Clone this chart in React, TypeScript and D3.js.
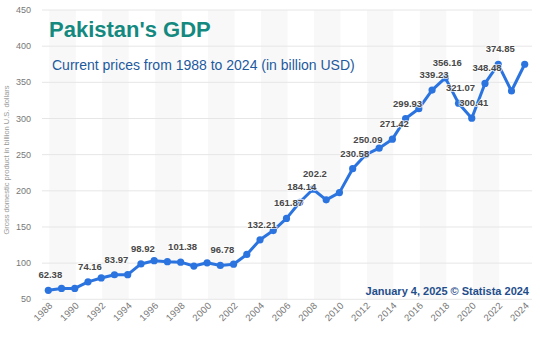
import React from "react";
import * as d3 from "d3";

const years: number[] = [
  1988, 1989, 1990, 1991, 1992, 1993, 1994, 1995, 1996, 1997, 1998, 1999,
  2000, 2001, 2002, 2003, 2004, 2005, 2006, 2007, 2008, 2009, 2010, 2011,
  2012, 2013, 2014, 2015, 2016, 2017, 2018, 2019, 2020, 2021, 2022, 2023, 2024,
];
const gdp: number[] = [
  62.38, 65, 65, 74.16, 79.5, 83.97, 84, 98.92, 103.4, 102, 101.38, 96,
  100.5, 96.78, 98.5, 112, 132.21, 145, 161.87, 184.14, 202.2, 187.5, 197.5, 230.58,
  250.09, 259, 271.42, 299.93, 313.5, 339.23, 356.16, 321.07, 300.41, 348.48, 374.85, 338, 375,
];
const labeledYears: number[] = [
  1988, 1991, 1993, 1995, 1998, 2001, 2004, 2006, 2007, 2008, 2011, 2012,
  2014, 2015, 2017, 2018, 2019, 2020, 2021, 2022,
];
const yTicks: number[] = [50, 100, 150, 200, 250, 300, 350, 400, 450];
const xTicks: number[] = [
  1988, 1990, 1992, 1994, 1996, 1998, 2000, 2002, 2004, 2006, 2008, 2010,
  2012, 2014, 2016, 2018, 2020, 2022, 2024,
];
const bandStarts: number[] = [1988, 1992, 1996, 2000, 2004, 2008, 2012, 2016, 2020];

const title = "Pakistan's GDP";
const subtitle = "Current prices from 1988 to 2024 (in billion USD)";
const yAxisTitle = "Gross domestic product in billion U.S. dollars";
const footer = "January 4, 2025 © Statista 2024";

export default function App() {
  const W = 540;
  const H = 338;
  const x = d3.scaleLinear().domain([1988, 2024]).range([48.3, 524.7]);
  const y = d3.scaleLinear().domain([50, 450]).range([299.3, 10]);
  const data = years.map((yr, i) => ({ yr, v: gdp[i] }));
  const line = d3
    .line<{ yr: number; v: number }>()
    .x((d) => x(d.yr))
    .y((d) => y(d.v));
  const font = "'Liberation Sans', Arial, sans-serif";
  const lineColor = "#2b74e0";

  return (
    <svg
      width={W}
      height={H}
      style={{ position: "absolute", left: 0, top: 0, background: "#fff" }}
      fontFamily={font}
    >
      <rect x={0} y={0} width={W} height={H} fill="#fff" />
      {bandStarts.map((b) => (
        <rect
          key={b}
          x={x(b) + 1}
          y={y(450)}
          width={x(b + 2) - x(b)}
          height={y(50) - y(450)}
          fill="#f8f8f8"
        />
      ))}
      {yTicks.map((t) => (
        <g key={t}>
          <line x1={42} x2={532} y1={y(t)} y2={y(t)} stroke="#e6e6e6" strokeWidth={1} />
          <text
            x={31}
            y={y(t)}
            dy="0.35em"
            textAnchor="end"
            fontSize={9}
            fill="#777"
          >
            {t}
          </text>
        </g>
      ))}
      {xTicks.map((t) => (
        <text
          key={t}
          transform={`translate(${x(t) + 5},${306}) rotate(-45)`}
          textAnchor="end"
          fontSize={9.5}
          fill="#777"
          letterSpacing={0.3}
        >
          {t}
        </text>
      ))}
      <text
        transform={`translate(9,160) rotate(-90)`}
        textAnchor="middle"
        fontSize={7.5}
        fill="#999"
      >
        {yAxisTitle}
      </text>
      <text x={49} y={37} fontSize={22} fontWeight="bold" fill="#14897f">
        {title}
      </text>
      <text x={52} y={70} fontSize={14} fill="#1d5a9e">
        {subtitle}
      </text>
      <path d={line(data) || ""} fill="none" stroke={lineColor} strokeWidth={3} strokeLinejoin="round" />
      {data.map((d) => (
        <circle key={d.yr} cx={x(d.yr)} cy={y(d.v)} r={3.6} fill={lineColor} />
      ))}
      {data
        .filter((d) => labeledYears.includes(d.yr))
        .map((d) => (
          <text
            key={d.yr}
            x={x(d.yr) + 2}
            y={y(d.v) - 12}
            textAnchor="middle"
            fontSize={9.5}
            fontWeight="bold"
            fill="#484848"
            stroke="#fff"
            strokeWidth={2}
            strokeOpacity={0.7}
            paintOrder="stroke"
          >
            {d.v}
          </text>
        ))}
      <text x={529} y={295} textAnchor="end" fontSize={11} fontWeight="bold" fill="#1f4e8c">
        {footer}
      </text>
    </svg>
  );
}
